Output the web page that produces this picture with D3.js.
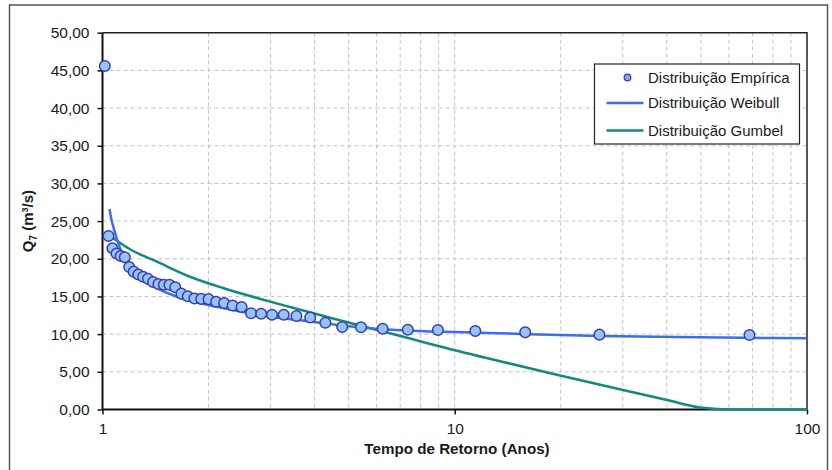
<!DOCTYPE html>
<html>
<head>
<meta charset="utf-8">
<script src="https://cdn.jsdelivr.net/npm/d3@7"></script>
<style>
  body { margin: 0; background: #fff; }
  svg { font-family: "Liberation Sans", Arial, sans-serif; }
</style>
</head>
<body>
<div class="container"></div>
<script>
// Distribuição Empírica (tempo de retorno, vazão)
var empT = [1.015, 1.040, 1.067, 1.096, 1.126, 1.157, 1.191, 1.226, 1.264, 1.304, 1.346,
  1.392, 1.441, 1.493, 1.549, 1.609, 1.675, 1.746, 1.823, 1.907, 2.000, 2.102, 2.215,
  2.341, 2.482, 2.641, 2.822, 3.029, 3.270, 3.552, 3.887, 4.292, 4.791, 5.421, 6.242,
  7.357, 8.957, 11.44, 15.85, 25.75, 68.67];
var empQ = [45.58, 23.02, 21.39, 20.70, 20.37, 20.20, 18.91, 18.29, 17.91, 17.62, 17.36,
  16.92, 16.65, 16.56, 16.56, 16.22, 15.37, 15.02, 14.72, 14.68, 14.64, 14.30, 14.13,
  13.80, 13.60, 12.77, 12.71, 12.58, 12.58, 12.41, 12.21, 11.52, 10.95, 10.92, 10.72,
  10.58, 10.55, 10.42, 10.24, 9.93, 9.89];

// Distribuição Weibull
var weibullT = [1.047, 1.06, 1.08, 1.11, 1.135, 1.16, 1.186, 1.24, 1.294, 1.41, 1.6, 1.8,
  2.0, 2.5, 3.0, 3.7, 4.5, 5.5, 7.5, 11.8, 16.3, 25.8, 49.4, 100];
var weibullQ = [26.6, 25.2, 23.8, 22.0, 20.8, 19.8, 19.0, 17.9, 17.2, 16.2, 15.1, 14.4,
  13.85, 12.95, 12.3, 11.8, 11.3, 10.85, 10.45, 10.2, 10.0, 9.75, 9.58, 9.45];

// Distribuição Gumbel
var gumbelT = [1.071, 1.197, 1.428, 1.772, 2.198, 2.746, 3.407, 4.511, 6.017, 7.464, 8.965,
  13.18, 19.90, 30.04, 40.05, 49.69, 61.66, 100];
var gumbelQ = [22.76, 21.26, 19.61, 17.62, 16.12, 14.80, 13.60, 12.08, 10.55, 9.42, 8.43,
  6.50, 4.51, 2.59, 1.26, 0.27, 0.0, 0.0];

var yTicks = [0, 5, 10, 15, 20, 25, 30, 35, 40, 45, 50];
var xTicks = [1, 10, 100];
var legendLabels = ["Distribuição Empírica", "Distribuição Weibull", "Distribuição Gumbel"];

var W = 832, H = 470;
var pLeft = 102.5, pRight = 807, pTop = 32.7, pBottom = 409.5;

var svg = d3.select(".container")
  .append("svg")
    .attr("width", W)
    .attr("height", H);

// outer chart frame
svg.append("rect")
  .attr("x", 9.5).attr("y", 5)
  .attr("width", 818).attr("height", 490)
  .attr("fill", "none")
  .attr("stroke", "#555")
  .attr("stroke-width", 1.5);

var x = d3.scaleLog().domain([1, 100]).range([pLeft, pRight]);
var y = d3.scaleLinear().domain([0, 50]).range([pBottom, pTop]);

// grid
var minor = [];
[1, 10].forEach(function(b) {
  for (var k = 2; k <= 10; k++) minor.push(b * k);
});
minor = minor.filter(function(v) { return v < 100; });

svg.append("g")
  .selectAll("line")
  .data(minor)
  .enter()
  .append("line")
    .attr("x1", function(d) { return x(d); })
    .attr("x2", function(d) { return x(d); })
    .attr("y1", pTop).attr("y2", pBottom)
    .attr("stroke", "#c4c4c4")
    .attr("stroke-dasharray", "4,3");

svg.append("g")
  .selectAll("line")
  .data(yTicks.slice(1, -1))
  .enter()
  .append("line")
    .attr("x1", pLeft).attr("x2", pRight)
    .attr("y1", function(d) { return y(d); })
    .attr("y2", function(d) { return y(d); })
    .attr("stroke", "#c4c4c4")
    .attr("stroke-dasharray", "4,3");

// top / right border of plot
svg.append("path")
  .attr("d", "M" + pLeft + "," + pTop + "H" + pRight + "V" + pBottom)
  .attr("fill", "none")
  .attr("stroke", "#222")
  .attr("stroke-width", 1.5);

var fmt = function(d) { return d3.format(".2f")(d).replace(".", ","); };

var yAxis = svg.append("g")
  .attr("transform", "translate(" + pLeft + ",0)")
  .call(d3.axisLeft(y).tickValues(yTicks).tickFormat(fmt).tickSize(5).tickPadding(8));
var xAxis = svg.append("g")
  .attr("transform", "translate(0," + pBottom + ")")
  .call(d3.axisBottom(x).tickValues(xTicks).tickFormat(d3.format("d")).tickSize(5).tickPadding(8));

[yAxis, xAxis].forEach(function(a) {
  a.select(".domain").attr("stroke", "#111").attr("stroke-width", 2);
  a.selectAll(".tick line").attr("stroke", "#111").attr("stroke-width", 1.5);
  a.selectAll(".tick text").attr("fill", "#1a1a1a").style("font-size", "15.5px")
    .style("font-family", "'Liberation Sans', Arial, sans-serif");
});
yAxis.select(".domain").attr("d", "M0," + pTop + "V" + pBottom);
xAxis.select(".domain").attr("d", "M" + pLeft + ",0H" + pRight);

// axis titles
svg.append("text")
  .attr("x", 457).attr("y", 454)
  .attr("text-anchor", "middle")
  .style("font-size", "15.2px")
  .style("font-weight", "bold")
  .attr("fill", "#1a1a1a")
  .text("Tempo de Retorno (Anos)");

var yt = svg.append("text")
  .attr("transform", "translate(33,221) rotate(-90)")
  .attr("text-anchor", "middle")
  .style("font-size", "15px")
  .style("font-weight", "bold")
  .attr("fill", "#1a1a1a");
yt.append("tspan").text("Q");
yt.append("tspan").attr("dy", 4).style("font-size", "10px").text("7");
yt.append("tspan").attr("dy", -4).text(" (m");
yt.append("tspan").attr("dy", -5).style("font-size", "9px").text("3");
yt.append("tspan").attr("dy", 5).text("/s)");

// lines
var line = d3.line()
  .x(function(d) { return x(d[0]); })
  .y(function(d) { return y(d[1]); })
  .curve(d3.curveMonotoneX);

svg.append("path")
  .datum(gumbelT.map(function(t, i) { return [t, gumbelQ[i]]; }))
  .attr("d", line)
  .attr("fill", "none")
  .attr("stroke", "#138a7c")
  .attr("stroke-width", 2.5);

svg.append("path")
  .datum(weibullT.map(function(t, i) { return [t, weibullQ[i]]; }))
  .attr("d", line)
  .attr("fill", "none")
  .attr("stroke", "#3a6cf4")
  .attr("stroke-width", 2.5);

// points
svg.append("g")
  .selectAll("circle")
  .data(empT)
  .enter()
  .append("circle")
    .attr("cx", function(d) { return x(d); })
    .attr("cy", function(d, i) { return y(empQ[i]); })
    .attr("r", 5.3)
    .attr("fill", "#94c4f8")
    .attr("stroke", "#3c3cae")
    .attr("stroke-width", 1.5);

// legend
var lg = svg.append("g");
lg.append("rect")
  .attr("x", 594.5).attr("y", 64)
  .attr("width", 205).attr("height", 80)
  .attr("fill", "#fff")
  .attr("stroke", "#222")
  .attr("stroke-width", 1.2);

var rows = [77.5, 103, 130.5];
lg.append("circle")
  .attr("cx", 627.5).attr("cy", rows[0]).attr("r", 3.3)
  .attr("fill", "#8aa6e6").attr("stroke", "#3c3cae").attr("stroke-width", 1.3);
lg.append("line")
  .attr("x1", 606.5).attr("x2", 643.5).attr("y1", rows[1]).attr("y2", rows[1])
  .attr("stroke", "#3a6cf4").attr("stroke-width", 2.5);
lg.append("line")
  .attr("x1", 606.5).attr("x2", 643.5).attr("y1", rows[2]).attr("y2", rows[2])
  .attr("stroke", "#138a7c").attr("stroke-width", 2.5);

lg.selectAll("text.lbl")
  .data(legendLabels)
  .enter()
  .append("text")
    .attr("class", "lbl")
    .attr("x", 648)
    .attr("y", function(d, i) { return rows[i] + 5.3; })
    .style("font-size", "15px")
    .attr("fill", "#1a1a1a")
    .text(function(d) { return d; });
</script>
</body>
</html>
